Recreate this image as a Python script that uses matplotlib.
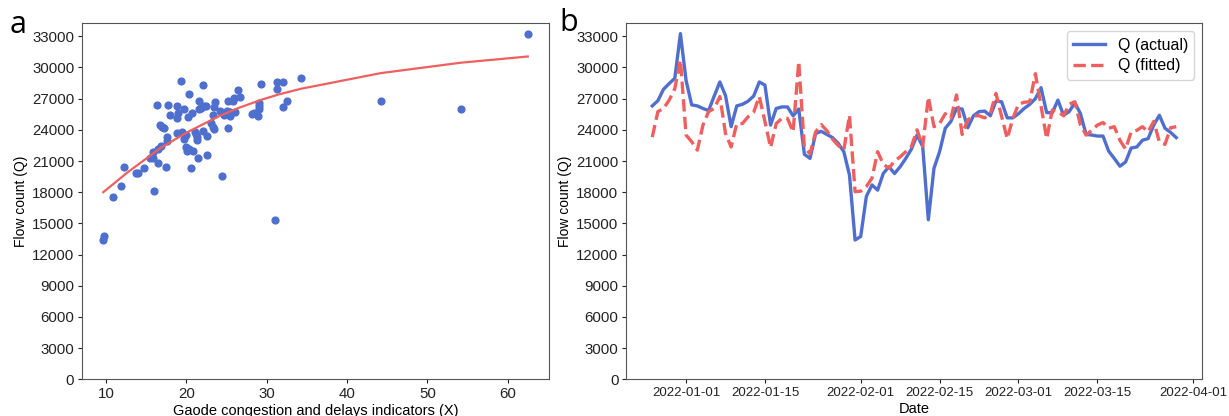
import matplotlib
matplotlib.use('Agg')
import matplotlib.pyplot as plt
import matplotlib.dates as mdates
import numpy as np
import pandas as pd

plt.rcParams['font.family'] = ['Liberation Sans', 'DejaVu Sans']
plt.rcParams['font.size'] = 11

# ---- panel a: scatter of X vs Q, with fitted curve ----
x_gaode = [62.5, 9.67, 9.83, 10.87, 11.87, 12.32, 13.77, 14.06, 14.8, 15.97,
           15.5, 15.9, 15.9, 16.5, 16.5, 16.9, 17.5, 17.6, 17.6, 16.4,
           17.7, 16.76, 16.97, 17.26, 18.0, 18.8, 18.9, 19.0, 19.3, 19.7,
           18.83, 19.5, 19.7, 19.95, 20.0, 20.1, 20.4, 20.2, 20.4, 20.7,
           20.65, 20.86, 21.1, 21.2, 21.3, 21.4, 21.5, 21.65, 21.6, 21.9,
           22.15, 22.15, 22.2, 22.5, 22.6, 22.6, 23.3, 23.1, 23.4, 23.3,
           23.6, 23.5, 24.2, 24.5, 24.76, 25.05, 25.2, 25.26, 25.4, 25.5,
           25.8, 26.0, 26.1, 26.4, 26.7, 28.2, 28.4, 28.95, 29.0, 29.05,
           29.07, 29.3, 31.1, 31.3, 31.35, 32.1, 32.1, 32.6, 34.3, 44.2, 54.15]
q_scatter = [33250, 13400, 13750, 17550, 18600, 20450, 19800, 19800, 20350, 18150,
             21250, 21250, 21900, 20850, 22150, 22450, 20450, 23350, 22900, 26350,
             26400, 24450, 24300, 24150, 25400, 25100, 26300, 25650, 28650, 26000,
             23650, 23750, 23100, 23500, 22350, 22000, 22200, 25200, 27400, 25650,
             20300, 22000, 23800, 23550, 23300, 23050, 21300, 26750, 26000, 26050,
             28300, 23900, 26300, 26300, 23400, 21600, 25400, 24700, 24100, 24300,
             26700, 26200, 25850, 19600, 25400, 25800, 24150, 26800, 25350, 25750,
             26800, 27050, 25750, 27850, 27200, 25550, 25650, 25350, 26000, 26250,
             26600, 28400, 15350, 27950, 28600, 28550, 26200, 26750, 28950, 26800, 26000]

fit_x = [9.67, 10.87, 12.6, 14.0, 16.8, 18.0, 20.1, 22.0, 24.2, 26.5, 29.2, 31.5, 34.3, 44.2, 54.15, 62.5]
fit_q = [18000, 18750, 19850, 20650, 22250, 22800, 23750, 24500, 25350, 26100, 26850, 27400, 27950, 29450, 30450, 31050]

# ---- panel b: daily actual vs fitted ----
dates = pd.date_range('2021-12-26', '2022-03-29', freq='D')
q_actual = [26300, 26800, 27900, 28450, 28950, 33250, 28750, 26400, 26300, 26050,
            25850, 27250, 28600, 27300, 24300, 26300, 26450, 26750, 27250, 28600,
            28300, 24450, 26050, 26200, 26200, 25350, 26000, 21650, 21250, 23650,
            23850, 23550, 23250, 22700, 21900, 19650, 13400, 13750, 17600, 18700,
            18200, 19800, 20450, 19800, 20450, 21250, 22150, 23500, 22400, 15350,
            20300, 21900, 24150, 24800, 26050, 26000, 24200, 25350, 25750, 25800,
            25350, 26750, 26700, 25150, 25150, 25550, 26050, 26450, 27000, 28050,
            25650, 25650, 26850, 25400, 25750, 26600, 25550, 23550, 23500, 23400,
            23400, 21950, 21250, 20500, 20900, 22250, 22350, 23000, 23150, 24450,
            25400, 24150, 23750, 23250]
q_fitted = [23300, 25750, 26050, 26850, 27950, 30700, 23500, 22850, 22050, 24450,
            25750, 26050, 27200, 23650, 22350, 24600, 24600, 25250, 25700, 27200,
            24800, 22300, 24600, 25100, 25100, 23800, 30550, 22300, 21700, 23800,
            24500, 23900, 23100, 22500, 22050, 25400, 18050, 18100, 18550, 19350,
            21900, 20700, 20300, 21000, 21400, 21900, 22400, 24000, 22400, 27150,
            24300, 24600, 25550, 25100, 27350, 23550, 24950, 25350, 25350, 25150,
            25550, 27500, 25300, 23150, 25100, 26450, 26650, 26700, 29400, 26300,
            23150, 25900, 25750, 25350, 26450, 26700, 24450, 23500, 23950, 24450,
            24700, 24150, 24300, 23000, 22150, 23800, 23950, 24300, 23800, 24800,
            22850, 22600, 24200, 24300]

blue = '#4f6fcf'
red = '#ef5f5f'
yticks = np.arange(0, 33001, 3000)

fig = plt.figure(figsize=(12.29, 4.16), dpi=100)
ax1 = fig.add_axes([0.0667, 0.088, 0.380, 0.856])
ax2 = fig.add_axes([0.5094, 0.088, 0.469, 0.856])

ax1.scatter(x_gaode, q_scatter, s=24, color=blue, zorder=2)
ax1.plot(fit_x, fit_q, color=red, lw=1.6, zorder=3)
ax1.set_ylim(bottom=0)
ax1.set_yticks(yticks)
ax1.set_xlabel('Gaode congestion and delays indicators (X)', fontsize=10.5, labelpad=2)
ax1.set_ylabel('Flow count (Q)', fontsize=10, labelpad=3)

ax2.plot(dates, q_actual, color=blue, lw=2.4, label='Q (actual)')
ax2.plot(dates, q_fitted, color=red, lw=2.4, ls='--', label='Q (fitted)')
ax2.set_ylim(bottom=0)
ax2.set_yticks(yticks)
ax2.xaxis.set_major_locator(mdates.DayLocator(bymonthday=[1, 15]))
ax2.xaxis.set_major_formatter(mdates.DateFormatter('%Y-%m-%d'))
ax2.set_xlabel('Date', fontsize=10.5, labelpad=2)
ax2.set_ylabel('Flow count (Q)', fontsize=10, labelpad=3)
ax2.legend(loc='upper right', fontsize=11.5, labelspacing=0.35)

for ax in (ax1, ax2):
    for s in ax.spines.values():
        s.set_color('#555555')
    ax.tick_params(colors='#222222', labelsize=10.8, length=3, pad=2.5)
ax2.tick_params(axis='x', labelsize=9.5)

fig.text(0.008, 0.94, 'a', fontsize=22, family='Open Sans', va='center')
fig.text(0.455, 0.945, 'b', fontsize=22, family='Open Sans', va='center')

fig.savefig('out.png', dpi=100)
